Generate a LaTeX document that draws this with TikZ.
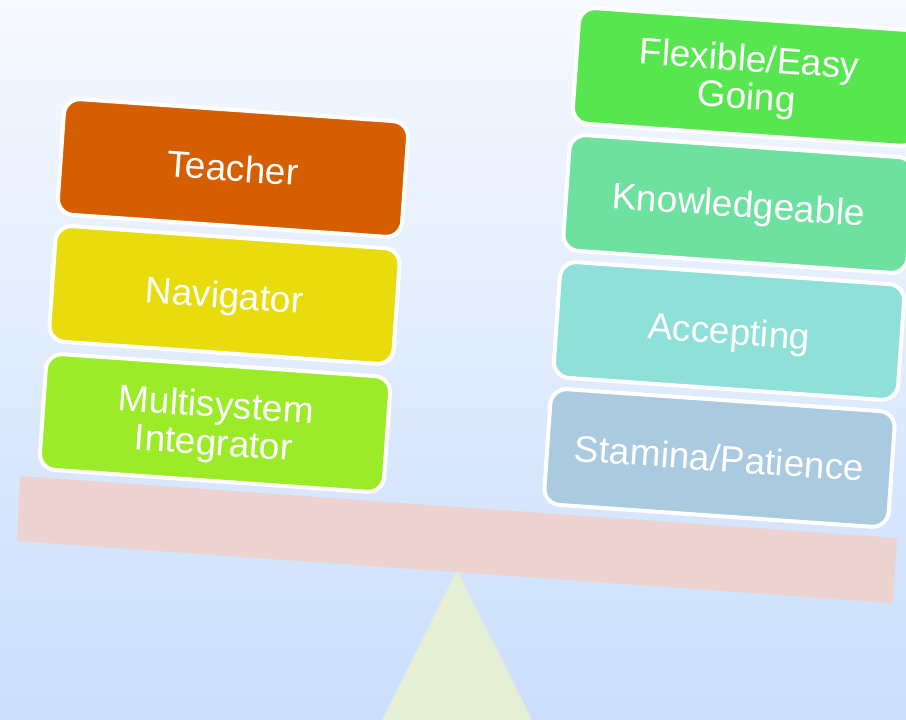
\documentclass[tikz,border=0pt]{standalone}
\usepackage{fontspec}
\setmainfont{Liberation Sans}
\definecolor{bgtop}{HTML}{F6F9FE}
\definecolor{bgbot}{HTML}{CADEFC}
\definecolor{plankfill}{HTML}{ECD3CF}
\definecolor{fulcrumfill}{HTML}{E5EFD6}
\definecolor{cteacher}{HTML}{D55E00}
\definecolor{cnavigator}{HTML}{E8DC0C}
\definecolor{cmulti}{HTML}{9BEB28}
\definecolor{cflexible}{HTML}{58E650}
\definecolor{cknow}{HTML}{6EE0A0}
\definecolor{caccept}{HTML}{8EE0D8}
\definecolor{cstamina}{HTML}{AACADF}
\begin{document}
\begin{tikzpicture}[x=1pt,y=-1pt,
  block/.style={rectangle, rounded corners=16pt, draw=white, line width=4pt,
    rotate=-4, text=white, align=center, inner sep=0pt,
    minimum width=345pt, minimum height=116pt,
    font=\fontsize{37}{38}\selectfont},
  oneline/.style={text height=26.5pt, text depth=0pt}]
\useasboundingbox (0,0) rectangle (906,720);
\clip (0,0) rectangle (906,720);
% background
\shade[top color=bgtop, bottom color=bgbot] (0,0) rectangle (906,720);
% fulcrum
\fill[fulcrumfill, rounded corners=2pt] (457,570) -- (532,720) -- (382,720) -- cycle;
% plank
\fill[plankfill, rounded corners=2pt] (20,476) -- (897,538) -- (893,603) -- (17,541) -- cycle;
% left stack
\node[block, oneline, fill=cteacher] (teacher) at (233,168) {Teacher};
\node[block, oneline, fill=cnavigator] (navigator) at (224.5,295) {Navigator};
\node[block, fill=cmulti] (multi) at (215,423) {\rule{0pt}{34.3pt}Multisystem\\Integrator};
% right stack
\node[block, fill=cflexible] (flexible) at (748,77) {\rule{0pt}{34.3pt}Flexible/Easy\\Going};
\node[block, oneline, fill=cknow] (know) at (738.5,204) {Knowledgeable};
\node[block, oneline, fill=caccept] (accept) at (729,331) {Accepting};
\node[block, oneline, fill=cstamina] (stamina) at (719.5,458) {Stamina/Patience};
\end{tikzpicture}
\end{document}
